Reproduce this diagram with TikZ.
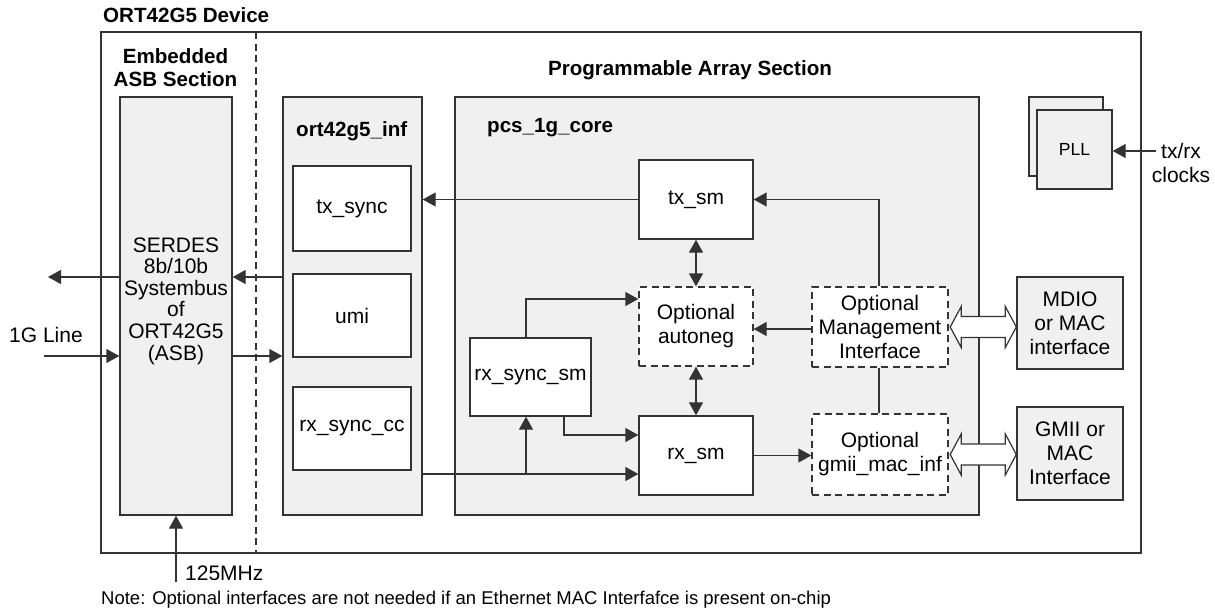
\documentclass[tikz,border=0pt]{standalone}
\usepackage{fontspec}
\setmainfont{Liberation Sans}
\usetikzlibrary{arrows.meta,calc}
\definecolor{boxgray}{HTML}{F0F0F0}
\definecolor{ln}{HTML}{333333}
\begin{document}
\begin{tikzpicture}[x=1pt,y=-1pt,
  every node/.style={font=\fontsize{21}{24}\selectfont, text=black},
  base/.style={draw=ln, line width=1.4pt, inner sep=0pt, align=center},
  gbox/.style={base, fill=boxgray},
  wbox/.style={base, fill=white},
  dbox/.style={base, fill=white, dash pattern=on 7pt off 4.5pt},
  lbl/.style={inner sep=0pt, align=center},
  bold/.style={font=\fontsize{20.6}{23}\selectfont\bfseries},
  arr/.style={draw=ln, line width=1.4pt, -{Triangle[length=13pt,width=14pt]}},
  darr/.style={draw=ln, line width=1.4pt, {Triangle[length=13pt,width=14pt]}-{Triangle[length=13pt,width=14pt]}},
  con/.style={draw=ln, line width=1.4pt},
  hollow/.style={draw=ln, line width=1.2pt, fill=white, line join=miter}
]
\useasboundingbox (0,0) rectangle (1215,613);

% outer device
\node[base, minimum width=1040pt, minimum height=521pt] (dev) at (621,292.5) {};
\node[lbl, bold, anchor=west] (devt) at (103,15) {ORT42G5 Device};
\coordinate (dtop) at (256,32);
\coordinate (dbot) at (256,553);
\draw[con, dash pattern=on 7pt off 4.5pt, line width=1.1pt] (dtop) -- (dbot);

\node[lbl, bold] (asbt) at (175.5,68) {Embedded\\ASB Section};
\node[lbl, bold] (pat) at (690,70) {Programmable Array Section};

% ASB
\node[gbox, minimum width=112pt, minimum height=418pt] (asb) at (176,306) {};
\node[lbl, font=\fontsize{21}{21.6}\selectfont] (asbtext) at (176,301) {SERDES\\8b/10b\\Systembus\\of\\ORT42G5\\(ASB)};

% ort42g5_inf
\node[gbox, minimum width=139pt, minimum height=418pt] (inf) at (352.5,306) {};
\node[lbl, bold, anchor=west] (inft) at (296,131) {ort42g5\_inf};
\node[wbox, minimum width=118pt, minimum height=85pt] (txsync) at (352,208.5) {tx\_sync};
\node[wbox, minimum width=118pt, minimum height=83pt] (umi) at (352,315.5) {umi};
\node[wbox, minimum width=118pt, minimum height=83pt] (rxcc) at (352,428.5) {rx\_sync\_cc};

% pcs core
\node[gbox, minimum width=524pt, minimum height=418pt] (pcs) at (717,306) {};
\node[lbl, bold, anchor=west] (pcst) at (487,128) {pcs\_1g\_core};
\node[wbox, minimum width=114pt, minimum height=79pt] (txsm) at (696,199.5) {tx\_sm};
\node[dbox, minimum width=114pt, minimum height=79pt] (auto) at (696,326.5) {Optional\\autoneg};
\node[wbox, minimum width=114pt, minimum height=79pt] (rxsm) at (696,455.5) {rx\_sm};
\node[wbox, minimum width=121pt, minimum height=78pt] (rxsync) at (530.5,377) {rx\_sync\_sm};
\node[dbox, minimum width=136pt, minimum height=80pt] (mgmt) at (880,327) {Optional\\Management\\Interface};
\node[dbox, minimum width=136pt, minimum height=81pt] (gmii) at (880,454.5) {Optional\\gmii\_mac\_inf};

% external
\node[gbox, minimum width=106pt, minimum height=92pt] (mdio) at (1070,323) {MDIO\\or MAC\\interface};
\node[gbox, minimum width=106pt, minimum height=93pt] (gmac) at (1070,453.5) {GMII or\\MAC\\Interface};

% PLL
\node[gbox, minimum width=74pt, minimum height=79pt] (pllb) at (1066,136.5) {};
\node[gbox, minimum width=75pt, minimum height=79pt, font=\fontsize{17.5}{20}\selectfont] (pll) at (1074.5,149.5) {PLL};
\node[lbl] (txrx) at (1181,163) {tx/rx\\clocks};
\coordinate (txrxin) at (1156,151);
\draw[arr] (txrxin) -- (pll.east |- txrxin);

% left side signals
\coordinate (r1) at (0,277);
\coordinate (r2) at (0,356);
\coordinate (outL) at (48,277);
\coordinate (inL) at (44,356);
\node[lbl] (line1g) at (46,335) {1G Line};
\draw[arr] (inf.west |- r1) -- (asb.east |- r1);
\draw[arr] (asb.west |- r1) -- (outL);
\draw[arr] (inL) -- (asb.west |- r2);
\draw[arr] (asb.east |- r2) -- (inf.west |- r2);
\coordinate (clk) at (176,582);
\node[lbl, anchor=west] (clkt) at (185,573) {125MHz};
\draw[arr] (clk) -- (asb.south);

% core connections
\draw[arr] (txsm.west) -- (inf.east |- txsm.west);
\coordinate (mx) at (879,0);
\draw[arr] (mx |- mgmt.north) -- (mx |- txsm.east) -- (txsm.east);
\draw[darr] (txsm.south) -- (auto.north);
\draw[darr] (auto.south) -- (rxsm.north);
\coordinate (sx1) at (526,0);
\coordinate (sx2) at (564,0);
\coordinate (ya) at (0,299);
\coordinate (yb) at (0,435);
\coordinate (yc) at (0,474);
\draw[arr] (sx1 |- rxsync.north) -- (sx1 |- ya) -- (auto.west |- ya);
\draw[arr] (sx2 |- rxsync.south) -- (sx2 |- yb) -- (rxsm.west |- yb);
\draw[arr] (inf.east |- yc) -- (rxsm.west |- yc);
\draw[arr] (sx1 |- yc) -- (sx1 |- rxsync.south);
\coordinate (ym) at (0,329);
\draw[arr] (mgmt.west |- ym) -- (auto.east |- ym);
\draw[con] (mx |- mgmt.south) -- (mx |- gmii.north);
\draw[arr] (rxsm.east) -- (gmii.west |- rxsm.east);

% hollow double arrows
\coordinate (h1a) at ($(mgmt.east)+(1.5,0)$);
\coordinate (h1b) at (mdio.west |- h1a);
\draw[hollow] (h1a) -- ++(11,-20.5) -- ++(0,10) -- ($(h1b)+(-11,-10.5)$) -- ++(0,-10) -- (h1b) -- ++(-11,20.5) -- ++(0,-10) -- ($(h1a)+(11,10.5)$) -- ++(0,10) -- cycle;
\coordinate (h2a) at ($(gmii.east)+(1.5,0)$);
\coordinate (h2b) at (gmac.west |- h2a);
\draw[hollow] (h2a) -- ++(11,-20.5) -- ++(0,10) -- ($(h2b)+(-11,-10.5)$) -- ++(0,-10) -- (h2b) -- ++(-11,20.5) -- ++(0,-10) -- ($(h2a)+(11,10.5)$) -- ++(0,10) -- cycle;

% note
\node[lbl, anchor=west, font=\fontsize{18.5}{20}\selectfont] (note) at (101,600) {Note: Optional interfaces are not needed if an Ethernet MAC Interfafce is present on-chip};
\end{tikzpicture}
\end{document}
